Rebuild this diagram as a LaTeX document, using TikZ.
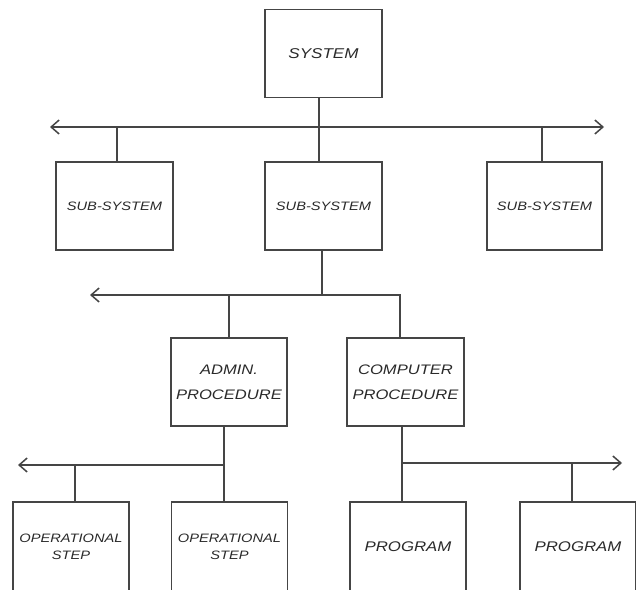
\documentclass[tikz,border=0pt]{standalone}
\usepackage{fontspec}
\newfontfamily\chartfont{Liberation Sans}[FakeStretch=1.2]
\usetikzlibrary{positioning,arrows.meta}
\definecolor{inkgray}{HTML}{454545}
\definecolor{txtgray}{HTML}{2a2a2a}
\tikzset{
  unitbox/.style={draw=inkgray,line width=1.5pt,minimum width=116pt,minimum height=88pt,
    inner sep=2pt,align=center,text=txtgray},
  link/.style={draw=inkgray,line width=1.5pt},
  barb/.style={-{Straight Barb[length=8pt,width=14pt]}},
  bigtext/.style={font=\chartfont\itshape\fontsize{13.8}{25}\selectfont},
  smalltext/.style={font=\chartfont\itshape\fontsize{12.2}{17}\selectfont}
}

\begin{document}
\begin{tikzpicture}[x=1pt,y=-1pt,>=Latex]
  \useasboundingbox (0,0) rectangle (636,589);
  \clip (0,0) rectangle (636,589);
  \fill[white] (0,0) rectangle (636,589);
  % level 0 and 1
  \node[unitbox,minimum width=117pt,font=\chartfont\itshape\fontsize{14.2}{17}\selectfont] (sys) at (323.5,53.5) {SYSTEM};
  \node[unitbox,minimum width=117pt,smalltext] (subL) at (114.5,206) {SUB-SYSTEM};
  \node[unitbox,minimum width=117pt,smalltext] (subM) at (323.5,206) {SUB-SYSTEM};
  \node[unitbox,minimum width=115pt,smalltext] (subR) at (544.5,206) {SUB-SYSTEM};
  % level 2
  \node[unitbox,bigtext] (adm) at (229,382) {ADMIN.\\PROCEDURE};
  \node[unitbox,minimum width=117pt,bigtext] (cmp) at (405.5,382) {COMPUTER\\PROCEDURE};
  % level 3
  \node[unitbox,minimum height=90pt,smalltext] (opA) at (71,547) {OPERATIONAL\\STEP};
  \node[unitbox,minimum height=90pt,smalltext] (opB) at (229.5,547) {OPERATIONAL\\STEP};
  \node[unitbox,minimum height=90pt,font=\chartfont\itshape\fontsize{14}{16}\selectfont] (prgA) at (408,547) {PROGRAM};
  \node[unitbox,minimum height=90pt,font=\chartfont\itshape\fontsize{14}{16}\selectfont] (prgB) at (578,547) {PROGRAM};

  % first bar
  \coordinate (barL) at (50,127);
  \coordinate (barR) at (604,127);
  \draw[link,{Straight Barb[length=8pt,width=14pt]}-{Straight Barb[length=8pt,width=14pt]}] (barL) -- (barR);
  \draw[link] ([xshift=-4.5pt]sys.south) -- ([xshift=-4.5pt]subM.north);
  \draw[link] ([xshift=2.5pt]subL.north) -- ([xshift=2.5pt]subL.north |- barL);
  \draw[link] ([xshift=-2.5pt]subR.north) -- ([xshift=-2.5pt]subR.north |- barL);

  % second bar
  \coordinate (bar2L) at (90,295);
  \coordinate (bar2R) at (400,295);
  \draw[link] ([xshift=-1.5pt]subM.south) -- ([xshift=-1.5pt]subM.south |- bar2L);
  \draw[link,barb] (cmp.north -| bar2R) -- (bar2R) -- (bar2L);
  \draw[link] (adm.north) -- (adm.north |- bar2L);

  % third bar, left
  \coordinate (bar3L) at (18,465);
  \draw[link] ([xshift=-5pt]adm.south) -- ([xshift=-5pt]adm.south |- opB.north);
  \draw[link,barb] ([xshift=-5pt]adm.south |- bar3L) -- (bar3L);
  \draw[link] ([xshift=4pt]opA.north) -- ([xshift=4pt]opA.north |- bar3L);

  % third bar, right
  \coordinate (bar3R) at (622,463);
  \draw[link] ([xshift=-3.5pt]cmp.south) -- ([xshift=-3.5pt]cmp.south |- prgA.north);
  \draw[link,barb] ([xshift=-3.5pt]cmp.south |- bar3R) -- (bar3R);
  \draw[link] ([xshift=-6pt]prgB.north) -- ([xshift=-6pt]prgB.north |- bar3R);
\end{tikzpicture}
\end{document}
